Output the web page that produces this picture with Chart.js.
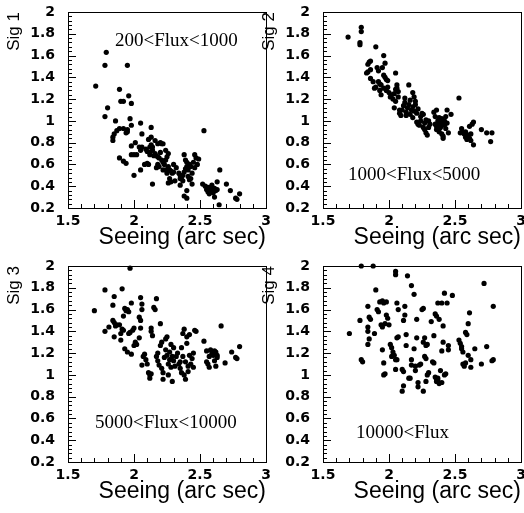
<!DOCTYPE html>
<html>
<head>
<meta charset="utf-8">
<script src="https://cdn.jsdelivr.net/npm/chart.js@4"></script>
<style>
  html, body { margin: 0; padding: 0; background: #fff; overflow: hidden; }
  body { width: 524px; height: 513px; position: relative; }
  canvas { position: absolute; }
</style>
</head>
<body>
<canvas id="c1" width="280" height="259" style="left:0;top:0"></canvas>
<canvas id="c2" width="280" height="259" style="left:255px;top:0"></canvas>
<canvas id="c3" width="280" height="259" style="left:0;top:254px"></canvas>
<canvas id="c4" width="280" height="259" style="left:255px;top:254px"></canvas>
<script>
// Tick labels
const seeingTicks = [1.5, 2, 2.5, 3];
const sigTicks = [0.2, 0.4, 0.6, 0.8, 1, 1.2, 1.4, 1.6, 1.8, 2];

// Flux bins
const fluxLabels = ['200<Flux<1000', '1000<Flux<5000', '5000<Flux<10000', '10000<Flux'];
const sigTitles = ['Sig 1', 'Sig 2', 'Sig 3', 'Sig 4'];

// Points: [seeing, sig]
const sig1Points = [
  [1.71,1.32],[1.79,1.63],[1.78,1.51],[1.95,1.51],[1.80,1.12],[1.78,1.04],[1.89,1.29],[1.96,1.23],
  [1.90,1.18],[1.92,1.18],[1.98,1.16],[1.86,1.00],[1.97,1.02],[1.98,0.96],[1.89,0.93],[1.92,0.93],
  [1.95,0.92],[1.94,0.89],[1.87,0.91],[1.85,0.88],[1.84,0.85],[1.84,0.82],[2.05,0.98],[2.13,0.94],
  [1.89,0.66],[1.92,0.63],[1.94,0.61],[2.00,0.50],[1.95,0.90],
  [2.01,0.80],[1.98,0.77],[2.00,0.69],[1.98,0.69],[2.02,0.69],[2.04,0.76],[2.05,0.73],[2.06,0.76],
  [2.05,0.55],[2.08,0.60],[2.10,0.61],[2.11,0.60],[2.06,0.88],[2.09,0.74],[2.10,0.72],[2.12,0.71],
  [2.12,0.76],[2.13,0.78],[2.14,0.76],[2.14,0.73],[2.12,0.69],[2.11,0.83],[2.13,0.85],[2.16,0.70],
  [2.17,0.68],[2.15,0.68],[2.18,0.67],[2.19,0.66],[2.16,0.82],[2.18,0.79],[2.20,0.80],[2.21,0.79],
  [2.22,0.79],[2.14,0.42],[2.17,0.57],[2.18,0.60],[2.19,0.58],[2.20,0.71],[2.21,0.64],[2.22,0.62],
  [2.23,0.60],[2.22,0.55],[2.24,0.55],[2.24,0.64],[2.25,0.67],[2.26,0.70],[2.24,0.73],[2.26,0.58],
  [2.27,0.55],[2.28,0.54],[2.27,0.47],[2.28,0.44],[2.26,0.43],[2.29,0.52],[2.30,0.53],[2.31,0.45],
  [2.30,0.60],[2.32,0.57],[2.25,0.52],
  [2.35,0.50],[2.36,0.48],[2.37,0.50],[2.35,0.47],[2.34,0.52],[2.38,0.53],[2.37,0.45],[2.35,0.41],
  [2.38,0.69],[2.39,0.64],[2.40,0.62],[2.40,0.58],[2.41,0.55],[2.39,0.56],[2.42,0.60],[2.43,0.58],
  [2.44,0.52],[2.41,0.49],[2.42,0.46],[2.43,0.47],[2.44,0.42],[2.40,0.36],[2.38,0.31],[2.40,0.29],
  [2.46,0.69],[2.47,0.66],[2.49,0.65],[2.45,0.62],[2.48,0.60],[2.53,0.91],[2.46,0.57],
  [2.52,0.42],[2.54,0.40],[2.55,0.37],[2.56,0.35],[2.56,0.39],[2.57,0.33],[2.58,0.36],[2.59,0.41],
  [2.59,0.37],[2.60,0.34],[2.61,0.30],[2.61,0.38],[2.62,0.36],[2.63,0.37],[2.63,0.44],[2.65,0.55],
  [2.645,0.23],[2.70,0.42],[2.73,0.36],[2.77,0.29],[2.78,0.28],[2.80,0.33],[2.58,0.39]
];

const sig2Points = [
  [1.69,1.77],[1.79,1.86],[1.79,1.82],[1.78,1.72],[1.78,1.70],[1.90,1.68],
  [1.84,1.52],[1.85,1.54],[1.86,1.55],[1.84,1.45],[1.83,1.44],[1.86,1.47],[1.86,1.39],[1.88,1.36],
  [1.89,1.30],[1.90,1.31],[1.91,1.49],[1.92,1.46],[1.92,1.36],[1.93,1.34],[1.94,1.33],[1.93,1.28],
  [1.94,1.24],[1.96,1.60],[1.97,1.53],[1.95,1.49],[1.96,1.42],[1.97,1.40],[1.98,1.38],[1.99,1.37],
  [1.96,1.30],[1.98,1.28],[1.99,1.31],[2.00,1.26],[2.01,1.22],[2.02,1.24],[2.03,1.20],[2.04,1.25],
  [2.05,1.29],[2.05,1.44],[2.06,1.33],[2.06,1.30],[2.07,1.27],[2.07,1.22],[2.05,1.18],[2.04,1.12],
  [2.08,1.10],[2.08,1.07],[2.09,1.05],[2.10,1.10],[2.11,1.14],[2.12,1.17],[2.12,1.21],[2.13,1.08],
  [2.13,1.05],[2.14,1.12],[2.15,1.33],[2.15,1.15],[2.16,1.19],[2.16,1.06],[2.17,1.10],[2.18,1.13],
  [2.18,1.26],[2.19,1.22],[2.20,1.18],[2.20,1.15],[2.19,1.09],[2.18,1.03],[2.21,1.07],[2.22,1.11],
  [2.21,0.99],[2.22,0.97],[2.23,0.96],[2.24,1.04],[2.24,1.00],[2.25,1.07],[2.26,1.06],[2.26,0.94],
  [2.27,0.92],[2.27,0.98],[2.28,1.01],[2.28,0.89],[2.29,0.87],[2.30,0.94],[2.30,1.00],[2.31,0.97],
  [2.34,1.08],[2.35,1.04],[2.36,1.10],[2.35,0.97],[2.36,0.95],[2.36,0.92],[2.37,1.00],[2.37,0.96],
  [2.38,0.93],[2.38,0.90],[2.38,1.03],[2.39,0.98],[2.39,0.94],[2.40,0.97],[2.40,1.02],[2.40,0.88],
  [2.41,0.86],[2.41,0.84],[2.42,0.96],[2.42,1.00],[2.43,0.93],[2.43,1.04],[2.44,0.98],[2.44,1.10],
  [2.45,0.89],[2.47,1.06],[2.53,1.21],
  [2.54,0.89],[2.55,0.93],[2.56,0.90],[2.57,0.88],[2.58,0.85],[2.58,0.90],[2.59,0.83],[2.60,0.87],
  [2.61,0.84],[2.61,0.95],[2.62,0.88],[2.63,0.97],[2.64,0.99],[2.64,0.78],[2.62,0.82],[2.70,0.92],
  [2.74,0.89],[2.77,0.81],[2.78,0.89]
];

const sig3Points = [
  [1.70,1.59],[1.78,1.78],[1.78,1.40],[1.81,1.44],[1.84,1.64],[1.85,1.72],[1.84,1.50],[1.85,1.48],
  [1.85,1.35],[1.86,1.45],[1.87,1.46],[1.89,1.46],[1.90,1.38],[1.91,1.79],[1.90,1.32],[1.91,1.42],
  [1.92,1.41],[1.92,1.54],[1.93,1.61],[1.94,1.59],[1.95,1.60],[1.96,1.58],[1.97,1.98],[1.98,1.66],
  [1.93,1.24],[1.95,1.21],[1.96,1.38],[1.97,1.39],[1.98,1.19],[1.99,1.41],[2.00,1.43],[2.00,1.27],
  [2.01,1.30],[2.02,1.28],[2.04,1.34],[2.04,1.53],[2.05,1.50],[2.05,1.71],[2.06,1.65],[2.06,1.60],
  [2.05,1.43],[2.06,1.09],[2.07,1.17],[2.08,1.19],[2.09,1.14],[2.10,1.10],[2.11,1.02],[2.12,1.00],
  [2.12,0.97],[2.13,1.01],[2.13,1.43],[2.13,1.40],[2.14,1.36],[2.15,1.62],[2.16,1.60],[2.17,1.70],
  [2.17,1.17],[2.18,1.20],[2.18,1.13],[2.19,1.09],[2.20,1.47],[2.20,1.27],[2.21,1.30],[2.21,1.06],
  [2.22,1.02],[2.22,0.96],[2.23,1.16],[2.24,1.33],[2.24,1.23],[2.25,1.35],[2.25,1.18],[2.26,1.10],
  [2.26,1.00],[2.27,1.14],[2.27,1.21],[2.28,1.28],[2.28,1.07],[2.29,0.94],[2.29,1.17],[2.30,1.13],
  [2.30,1.25],[2.31,1.08],[2.32,1.17],[2.33,1.20],[2.34,1.10],[2.35,1.12],[2.35,1.06],[2.36,1.02],
  [2.36,1.25],[2.37,1.38],[2.37,1.17],[2.38,1.42],[2.38,1.00],[2.39,0.96],[2.39,1.12],[2.40,1.35],
  [2.40,1.29],[2.41,1.08],[2.41,1.03],[2.42,1.37],[2.42,1.18],[2.43,1.10],[2.44,1.15],[2.45,1.07],
  [2.45,1.20],[2.46,1.41],[2.47,1.40],[2.53,1.31],[2.55,1.22],[2.55,1.12],[2.56,1.10],[2.57,1.07],
  [2.57,1.17],[2.58,1.23],[2.59,1.20],[2.60,1.18],[2.61,1.13],[2.61,1.22],[2.62,1.21],[2.63,1.18],
  [2.62,1.08],[2.63,1.16],[2.66,1.45],[2.69,1.11],[2.74,1.21],[2.77,1.16],[2.78,1.15],[2.80,1.26]
];

const sig4Points = [
  [1.70,1.38],[1.78,1.50],[1.80,1.12],[1.79,1.14],[1.79,2.00],[1.88,2.00],[1.84,1.63],[1.85,1.53],
  [1.86,1.51],[1.84,1.44],[1.84,1.40],[1.85,1.33],[1.84,1.28],[1.89,1.38],[1.90,1.78],[1.91,1.60],
  [1.92,1.58],[1.93,1.67],[1.95,1.68],[1.96,1.66],[1.98,1.67],[1.94,1.46],[1.95,1.44],[1.97,1.47],
  [1.95,1.23],[1.96,1.11],[1.96,1.00],[1.97,1.01],[1.98,1.55],[1.99,1.52],[2.00,1.46],[2.01,1.28],
  [2.02,1.25],[2.03,1.21],[2.02,1.17],[2.04,1.18],[2.05,1.14],[2.05,1.95],[2.05,1.92],[2.06,1.66],
  [2.07,1.60],[2.06,1.34],[2.07,1.35],[2.05,1.05],[2.06,1.14],[2.10,0.85],[2.11,0.90],[2.10,1.05],
  [2.11,1.03],[2.11,1.50],[2.12,1.55],[2.12,1.63],[2.13,1.37],[2.13,1.27],[2.14,1.91],[2.15,0.97],
  [2.16,0.97],[2.17,1.14],[2.17,1.09],[2.17,1.82],[2.19,1.74],[2.19,1.24],[2.20,1.04],[2.20,1.08],
  [2.21,1.34],[2.21,1.51],[2.22,0.93],[2.22,0.89],[2.24,1.10],[2.23,1.09],[2.25,1.60],[2.26,1.61],
  [2.26,1.30],[2.27,1.17],[2.28,1.15],[2.27,1.34],[2.28,1.27],[2.29,1.28],[2.26,0.85],[2.28,0.94],
  [2.29,1.00],[2.30,1.02],[2.32,1.49],[2.33,1.12],[2.34,1.11],[2.34,1.36],[2.35,1.56],[2.36,1.54],
  [2.37,1.66],[2.40,1.66],[2.35,0.98],[2.36,0.96],[2.36,0.94],[2.37,0.97],[2.37,0.95],[2.38,1.51],
  [2.38,0.92],[2.39,1.04],[2.40,0.93],[2.40,1.22],[2.41,1.30],[2.41,1.45],[2.42,1.75],[2.44,1.66],
  [2.48,1.73],[2.42,1.00],[2.43,1.01],[2.45,1.27],[2.45,1.23],[2.53,1.32],[2.54,1.29],[2.55,1.26],
  [2.55,1.24],[2.56,1.21],[2.56,1.10],[2.57,1.08],[2.58,1.11],[2.58,1.39],[2.59,1.37],[2.60,1.47],
  [2.61,1.57],[2.60,1.18],[2.62,1.14],[2.62,1.07],[2.65,1.24],[2.70,1.10],[2.72,1.84],[2.74,1.26],
  [2.78,1.13],[2.79,1.14],[2.79,1.63]
];

// where each flux caption starts (seeing, sig at baseline)
const labelAnchors = [[1.856, 1.686], [1.69, 0.457], [1.705, 0.51], [1.75, 0.42]];

// Frame with ROOT-like inner ticks
const framePlugin = {
  id: 'frame',
  beforeDatasetsDraw(chart) {
    const { ctx, chartArea: a, scales: { x, y } } = chart;
    ctx.save();
    ctx.strokeStyle = '#000';
    ctx.lineWidth = 1;
    ctx.strokeRect(a.left + 0.5, a.top + 0.5, a.right - a.left, a.bottom - a.top);
    ctx.beginPath();
    for (let i = 0; i <= 15; i++) {
      const px = Math.round(x.getPixelForValue(1.5 + i * 0.1)) + 0.5;
      const len = i % 5 === 0 ? 8 : 4;
      ctx.moveTo(px, a.bottom);
      ctx.lineTo(px, a.bottom - len);
    }
    for (let i = 0; i <= 45; i++) {
      const py = Math.round(y.getPixelForValue(0.2 + i * 0.04)) + 0.5;
      const len = i % 5 === 0 ? 8 : 4;
      ctx.moveTo(a.left, py);
      ctx.lineTo(a.left + len, py);
    }
    ctx.stroke();
    ctx.restore();
  }
};

// Flux bin caption inside the plot
const fluxLabelPlugin = {
  id: 'fluxLabel',
  afterDatasetsDraw(chart, args, opts) {
    const { ctx, scales: { x, y } } = chart;
    ctx.save();
    ctx.font = '19px "Liberation Serif"';
    ctx.fillStyle = '#000';
    ctx.textBaseline = 'alphabetic';
    ctx.textAlign = 'left';
    ctx.fillText(opts.text, x.getPixelForValue(opts.at[0]), y.getPixelForValue(opts.at[1]));
    ctx.restore();
  }
};

Chart.register(framePlugin, fluxLabelPlugin);

const tickFont = { family: 'DejaVu Sans', weight: 'bold', size: 14 };

function makePanel(id, points, yTitle, label, anchor) {
  return new Chart(document.getElementById(id), {
    type: 'scatter',
    data: {
      datasets: [{
        data: points.map(([x, y]) => ({ x, y })),
        backgroundColor: '#000',
        borderWidth: 0,
        pointRadius: 2.6,
        clip: false
      }]
    },
    options: {
      responsive: false,
      animation: false,
      layout: { padding: { left: 0, top: 12, right: 14, bottom: 0 } },
      plugins: {
        legend: { display: false },
        tooltip: { enabled: false },
        fluxLabel: { text: label, at: anchor }
      },
      scales: {
        x: {
          type: 'linear',
          min: 1.5,
          max: 3,
          afterBuildTicks: s => { s.ticks = seeingTicks.map(v => ({ value: v })); },
          afterFit: s => { s.height = 51; s.paddingLeft = 0; s.paddingRight = 0; },
          grid: { display: false, drawTicks: false },
          border: { display: false },
          ticks: {
            color: '#000', font: tickFont, padding: 5,
            maxRotation: 0, autoSkip: false,
            callback: v => String(v)
          },
          title: {
            display: true, text: 'Seeing (arc sec)', align: 'end', color: '#000',
            font: { family: 'Liberation Sans', size: 23 },
            padding: { top: 0, bottom: 8 }
          }
        },
        y: {
          type: 'linear',
          min: 0.2,
          max: 2,
          afterBuildTicks: s => { s.ticks = sigTicks.map(v => ({ value: v })); },
          afterFit: s => { s.width = 68; s.paddingTop = 0; s.paddingBottom = 0; },
          grid: { display: false, drawTicks: false },
          border: { display: false },
          ticks: {
            color: '#000', font: tickFont, padding: 13,
            autoSkip: false,
            callback: v => String(Math.round(v * 10) / 10)
          },
          title: {
            display: true, text: yTitle, align: 'end', color: '#000',
            font: { family: 'Liberation Sans', size: 17 },
            padding: { top: 4.5, bottom: 0 }
          }
        }
      }
    }
  });
}

makePanel('c1', sig1Points, sigTitles[0], fluxLabels[0], labelAnchors[0]);
makePanel('c2', sig2Points, sigTitles[1], fluxLabels[1], labelAnchors[1]);
makePanel('c3', sig3Points, sigTitles[2], fluxLabels[2], labelAnchors[2]);
makePanel('c4', sig4Points, sigTitles[3], fluxLabels[3], labelAnchors[3]);
</script>
</body>
</html>
